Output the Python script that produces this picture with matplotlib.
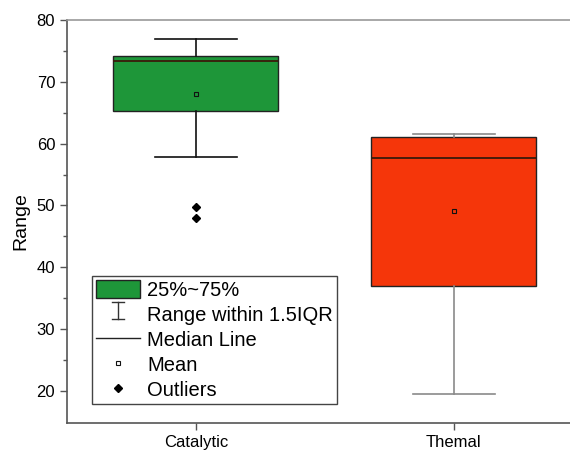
import numpy as np
import matplotlib.pyplot as plt
from matplotlib.patches import Patch
from matplotlib.lines import Line2D
from matplotlib.legend_handler import HandlerBase

plt.rcParams['font.family'] = ['Liberation Sans', 'DejaVu Sans']

# box statistics
groups = ['Catalytic', 'Themal']
q1 = [65.2, 37.0]
med = [73.3, 57.6]
q3 = [74.2, 61.1]
whislo = [57.8, 19.5]
whishi = [76.9, 61.6]
means = [68.1, 49.1]
outliers = [[49.8, 47.9], []]
colors = ['#1E9639', '#F5360A']
whisker_colors = ['#111111', '#8A8A8A']


class WhiskerHandler(HandlerBase):
    def create_artists(self, legend, orig, xd, yd, width, height, fontsize, trans):
        cx = xd + width / 2
        top = yd + height * 0.95
        bot = yd + height * 0.0
        w = width * 0.13
        arts = [Line2D([cx, cx], [bot, top]),
                Line2D([cx - w, cx + w], [top, top]),
                Line2D([cx - w, cx + w], [bot, bot])]
        for a in arts:
            a.set_color('#333333')
            a.set_linewidth(1.0)
            a.set_transform(trans)
        return arts


fig = plt.figure(figsize=(5.7, 4.51), dpi=100)
ax = fig.add_axes([0.1175, 0.0621, 0.905, 0.8936])

stats = []
for i in range(len(groups)):
    stats.append(dict(q1=q1[i], med=med[i], q3=q3[i], whislo=whislo[i],
                      whishi=whishi[i], mean=means[i], fliers=outliers[i],
                      label=groups[i]))

pos = np.arange(1, len(groups) + 1)
for i in range(len(groups)):
    ax.bxp([stats[i]], positions=[pos[i]], widths=0.64, patch_artist=True,
           showmeans=True,
           boxprops=dict(facecolor=colors[i], edgecolor='#222222', linewidth=1.0),
           medianprops=dict(color='#3a1a0a', linewidth=1.3),
           whiskerprops=dict(color=whisker_colors[i], linewidth=1.2),
           capprops=dict(color=whisker_colors[i], linewidth=1.2),
           capwidths=0.32,
           meanprops=dict(marker='s', markersize=2.5, markerfacecolor='none',
                          markeredgecolor='#111111', markeredgewidth=0.8),
           flierprops=dict(marker='D', markersize=3.8, markerfacecolor='black',
                           markeredgecolor='black'))

ax.set_xlim(0.5, 2.5)
ax.set_ylim(14.8, 80)
ax.set_xticks(pos)
ax.set_xticklabels(groups, fontsize=12)
ax.set_yticks(np.arange(20, 81, 10))
ax.set_yticks(np.arange(25, 80, 10), minor=True)
ax.tick_params(axis='y', labelsize=12, length=5, width=1, color='#555555', direction='out')
ax.tick_params(axis='y', which='minor', length=3, width=1, color='#555555')
ax.tick_params(axis='x', length=5, width=1, color='#555555', pad=4)
ax.set_ylabel('Range', fontsize=14, labelpad=5)
for s in ['left', 'bottom']:
    ax.spines[s].set_color('#555555')
    ax.spines[s].set_linewidth(1.2)
ax.spines['top'].set_color('#999999')
ax.spines['top'].set_linewidth(1.2)
ax.spines['right'].set_visible(False)

handles = [Patch(facecolor=colors[0], edgecolor='#222222', linewidth=1.0),
           Line2D([], []),
           Line2D([], [], color='#222222', linewidth=1.0),
           Line2D([], [], linestyle='none', marker='s', markersize=2.5,
                  markerfacecolor='none', markeredgecolor='#111111', markeredgewidth=0.8),
           Line2D([], [], linestyle='none', marker='D', markersize=3.8,
                  markerfacecolor='black', markeredgecolor='black')]
labels = ['25%~75%', 'Range within 1.5IQR', 'Median Line', 'Mean', 'Outliers']
leg = ax.legend(handles, labels, loc='lower left', bbox_to_anchor=(0.161, 0.104),
                bbox_transform=fig.transFigure, borderaxespad=0, fontsize=14.5,
                fancybox=False, edgecolor='#444444', framealpha=1,
                handlelength=2.2, handleheight=1.0, handletextpad=0.35,
                labelspacing=0.25, borderpad=0.2,
                handler_map={handles[1]: WhiskerHandler()})
leg.get_frame().set_linewidth(1.0)

fig.savefig('out.png', dpi=100)
